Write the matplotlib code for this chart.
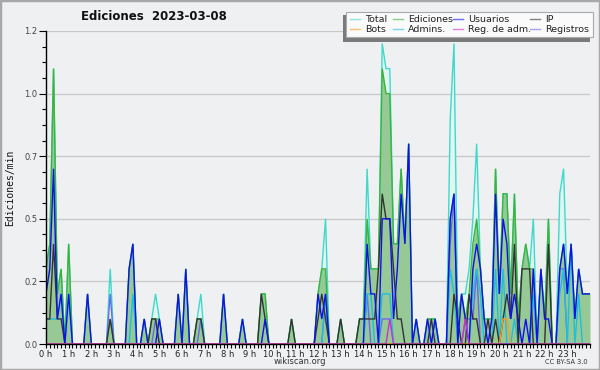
import numpy as np
import matplotlib
matplotlib.use("Agg")
import matplotlib.pyplot as plt
from matplotlib.patches import Rectangle
from matplotlib.lines import Line2D

# ---- data: edits per minute, 10-minute bins (145 points, 0h..24h) ----
total = [
    0.3, 0.4, 1.1, 0.2, 0.3, 0, 0.4, 0, 0, 0, 0, 0.2,
    0, 0, 0, 0, 0, 0.3, 0, 0, 0, 0, 0.3, 0.4,
    0, 0, 0.1, 0, 0.1, 0.2, 0.1, 0, 0, 0, 0, 0.2,
    0, 0.3, 0, 0, 0.1, 0.2, 0, 0, 0, 0, 0, 0.2,
    0, 0, 0, 0, 0.1, 0, 0, 0, 0, 0.2, 0.2, 0,
    0, 0, 0, 0, 0, 0.1, 0, 0, 0, 0, 0, 0,
    0.2, 0.3, 0.5, 0, 0, 0, 0.1, 0, 0, 0, 0, 0.1,
    0.1, 0.7, 0.3, 0.3, 0.3, 1.2, 1.1, 1.1, 0.4, 0.4, 0.7, 0.4,
    0.8, 0, 0.1, 0, 0, 0.1, 0.1, 0.1, 0, 0, 0, 0.9,
    1.2, 0.1, 0.2, 0.2, 0.3, 0.5, 0.8, 0.3, 0.1, 0.1, 0.1, 0.7,
    0.2, 0.6, 0.6, 0.2, 0.6, 0.1, 0.3, 0.4, 0.3, 0.5, 0, 0.3,
    0.1, 0.5, 0, 0, 0.6, 0.7, 0.2, 0.4, 0.1, 0.3, 0.2, 0.2,
    0.2]
ediciones = [
    0.3, 0.4, 1.1, 0.2, 0.3, 0, 0.4, 0, 0, 0, 0, 0.2,
    0, 0, 0, 0, 0, 0.1, 0, 0, 0, 0, 0.3, 0.4,
    0, 0, 0.1, 0, 0.1, 0.1, 0.1, 0, 0, 0, 0, 0.2,
    0, 0.3, 0, 0, 0.1, 0.1, 0, 0, 0, 0, 0, 0.2,
    0, 0, 0, 0, 0.1, 0, 0, 0, 0, 0.2, 0.2, 0,
    0, 0, 0, 0, 0, 0.1, 0, 0, 0, 0, 0, 0,
    0.2, 0.3, 0.3, 0, 0, 0, 0.1, 0, 0, 0, 0, 0.1,
    0.1, 0.5, 0.3, 0.3, 0.3, 1.1, 1.0, 1.0, 0.4, 0.4, 0.7, 0.4,
    0.8, 0, 0.1, 0, 0, 0.1, 0.1, 0.1, 0, 0, 0, 0.5,
    0.6, 0.1, 0.2, 0.1, 0.2, 0.4, 0.5, 0.3, 0.1, 0.1, 0.1, 0.7,
    0.2, 0.6, 0.6, 0.2, 0.6, 0.1, 0.3, 0.4, 0.3, 0.3, 0, 0.3,
    0.1, 0.5, 0, 0, 0.3, 0.4, 0.2, 0.4, 0.1, 0.3, 0.2, 0.2,
    0.2]
usuarios = [
    0.2, 0.3, 0.7, 0.1, 0.2, 0, 0.2, 0, 0, 0, 0, 0.2,
    0, 0, 0, 0, 0, 0, 0, 0, 0, 0, 0.3, 0.4,
    0, 0, 0.1, 0, 0, 0, 0.1, 0, 0, 0, 0, 0.2,
    0, 0.3, 0, 0, 0, 0, 0, 0, 0, 0, 0, 0.2,
    0, 0, 0, 0, 0.1, 0, 0, 0, 0, 0, 0.1, 0,
    0, 0, 0, 0, 0, 0, 0, 0, 0, 0, 0, 0,
    0.2, 0.1, 0.2, 0, 0, 0, 0, 0, 0, 0, 0, 0,
    0, 0.4, 0.2, 0.2, 0, 0.5, 0.5, 0.5, 0.1, 0.3, 0.6, 0.4,
    0.8, 0, 0.1, 0, 0, 0.1, 0, 0.1, 0, 0, 0, 0.5,
    0.6, 0, 0.2, 0.1, 0, 0.3, 0.4, 0.3, 0.1, 0, 0.1, 0.6,
    0.2, 0.5, 0.4, 0.1, 0.2, 0.1, 0, 0.1, 0, 0.3, 0, 0.3,
    0.1, 0.1, 0, 0, 0.3, 0.4, 0.2, 0.4, 0.1, 0.3, 0.2, 0.2,
    0.2]
ip = [
    0.1, 0.1, 0.4, 0.1, 0.1, 0, 0, 0, 0, 0, 0, 0,
    0, 0, 0, 0, 0, 0.1, 0, 0, 0, 0, 0, 0,
    0, 0, 0, 0, 0.1, 0.1, 0, 0, 0, 0, 0, 0,
    0, 0, 0, 0, 0.1, 0.1, 0, 0, 0, 0, 0, 0,
    0, 0, 0, 0, 0, 0, 0, 0, 0, 0.2, 0.1, 0,
    0, 0, 0, 0, 0, 0.1, 0, 0, 0, 0, 0, 0,
    0.1, 0.2, 0.1, 0, 0, 0, 0.1, 0, 0, 0, 0, 0.1,
    0.1, 0.1, 0.1, 0.1, 0.3, 0.6, 0.5, 0.5, 0.3, 0.1, 0.1, 0,
    0, 0, 0, 0, 0, 0, 0.1, 0, 0, 0, 0, 0,
    0.2, 0.1, 0, 0, 0.2, 0.1, 0.1, 0, 0, 0.1, 0, 0.1,
    0, 0.1, 0.2, 0.1, 0.4, 0, 0.3, 0.3, 0.3, 0, 0, 0,
    0, 0.4, 0, 0, 0, 0, 0, 0, 0, 0, 0, 0,
    0]
bots = [0] * 121 + [0.1, 0.1] + [0] * 22
admins = [
    0.1, 0.1, 0.1, 0.1, 0.2, 0, 0.2, 0, 0, 0, 0, 0,
    0, 0, 0, 0, 0, 0, 0, 0, 0, 0, 0, 0.2,
    0, 0, 0, 0, 0, 0, 0, 0, 0, 0, 0, 0,
    0, 0, 0, 0, 0, 0, 0, 0, 0, 0, 0, 0,
    0, 0, 0, 0, 0, 0, 0, 0, 0, 0, 0, 0,
    0, 0, 0, 0, 0, 0, 0, 0, 0, 0, 0, 0,
    0, 0, 0.2, 0, 0, 0, 0, 0, 0, 0, 0, 0,
    0, 0.2, 0.2, 0, 0, 0.2, 0.2, 0.2, 0, 0, 0, 0,
    0, 0, 0, 0, 0, 0, 0, 0.1, 0, 0, 0, 0.3,
    0.2, 0, 0, 0, 0, 0.2, 0.3, 0.2, 0, 0, 0, 0.3,
    0, 0.3, 0, 0, 0.1, 0, 0, 0, 0, 0.2, 0, 0,
    0, 0, 0, 0, 0.2, 0.3, 0, 0.4, 0, 0.2, 0, 0,
    0]
reg_adm = [0] * 91 + [0.1] + [0] * 19 + [0.1] + [0] * 33
registros = [
    0, 0, 0, 0, 0, 0, 0, 0, 0, 0, 0, 0,
    0, 0, 0, 0, 0, 0.2, 0, 0, 0, 0, 0, 0,
    0, 0, 0, 0, 0, 0.1, 0, 0, 0, 0, 0, 0,
    0, 0, 0, 0, 0, 0.1, 0, 0, 0, 0, 0, 0,
    0, 0, 0, 0, 0, 0, 0, 0, 0, 0, 0, 0,
    0, 0, 0, 0, 0, 0, 0, 0, 0, 0, 0, 0,
    0, 0, 0.2, 0, 0, 0, 0, 0, 0, 0, 0, 0,
    0, 0.2, 0, 0, 0, 0.1, 0.1, 0.1, 0, 0, 0, 0,
    0, 0, 0, 0, 0, 0, 0, 0, 0, 0, 0, 0.4,
    0.6, 0, 0, 0.1, 0.1, 0.1, 0.3, 0, 0, 0, 0, 0,
    0, 0, 0, 0, 0, 0, 0, 0, 0, 0.2, 0, 0,
    0, 0, 0, 0, 0.3, 0.3, 0, 0, 0, 0, 0, 0,
    0]

hours = np.arange(len(total)) / 6.0
hour_labels = [f"{h} h" for h in range(24)]
y_ticks = [0, 0.25, 0.5, 0.75, 1.0, 1.25]
y_labels = ["0.0", "0.2", "0.5", "0.7", "1.0", "1.2"]

names = ["Total", "Ediciones", "Usuarios", "IP",
         "Bots", "Admins.", "Reg. de adm.", "Registros"]
colors = {"Total": "#3fd9cc", "Ediciones": "#3cb43c", "Usuarios": "#1010e8",
          "IP": "#333333", "Bots": "#ff9a1a", "Admins.": "#1fbfdc",
          "Reg. de adm.": "#cc33cc", "Registros": "#6a6af0"}
series = {"Total": total, "Ediciones": ediciones, "Usuarios": usuarios,
          "IP": ip, "Bots": bots, "Admins.": admins,
          "Reg. de adm.": reg_adm, "Registros": registros}

BG = "#eff0f2"
W, H = 600, 370
fig = plt.figure(figsize=(W / 100, H / 100), dpi=100, facecolor=BG)


def fx(x):
    return x / W


def fy(y):
    return 1 - y / H


ax = fig.add_axes([fx(46), fy(344), fx(590) - fx(46), fy(31) - fy(344)])
ax.set_facecolor(BG)

# fills
ax.fill_between(hours, total, 0, color="#dff6f1", lw=0, zorder=1)
ax.fill_between(hours, ediciones, 0, color="#96c996", lw=0, zorder=2)

order = ["Total", "Ediciones", "Registros", "Admins.", "IP", "Usuarios",
         "Bots", "Reg. de adm."]
for z, n in enumerate(order):
    ax.plot(hours, series[n], color=colors[n], lw=1.0, zorder=3 + z,
            solid_joinstyle="miter")

ax.set_xlim(0, 24)
ax.set_ylim(0, 1.25)
ax.set_xticks(range(24))
ax.set_xticklabels(hour_labels, fontsize=6, color="#222222")
ax.set_xticks(np.arange(0, 24.01, 1 / 6), minor=True)
ax.set_yticks(y_ticks)
ax.set_yticklabels(y_labels, fontsize=6, color="#444444")
ax.set_yticks(np.arange(0, 1.2501, 0.0625), minor=True)
ax.tick_params(axis="x", which="both", length=3, width=0.8, pad=1,
               direction="out")
ax.tick_params(axis="y", which="major", length=5, width=0.8, pad=1)
ax.tick_params(axis="y", which="minor", length=3, width=0.8)
for s in ("top", "right"):
    ax.spines[s].set_visible(False)
for s in ("left", "bottom"):
    ax.spines[s].set_linewidth(1.0)
    ax.spines[s].set_zorder(20)
ax.grid(axis="y", which="major", color="#c8c8c8", lw=0.9, zorder=0)
ax.set_axisbelow(True)

# texts
fig.text(fx(154), fy(17), "Ediciones  2023-03-08", fontsize=8.5,
         fontweight="bold", ha="center", va="center", color="#111111")
fig.text(fx(10), fy(188), "Ediciones/min", fontsize=7, rotation=90,
         ha="center", va="center", family="DejaVu Sans Mono", color="#111111")
fig.text(fx(300), fy(362), "wikiscan.org", fontsize=6, ha="center",
         va="center", color="#333333")
fig.text(fx(588), fy(362), "CC BY-SA 3.0", fontsize=4.8, ha="right",
         va="center", color="#333333")

# legend (manual)
fig.patches.append(Rectangle((fx(342.7), fy(41.7)), fx(590) - fx(342.7),
                             fy(15) - fy(41.7), transform=fig.transFigure,
                             facecolor="#7a7a7a", edgecolor="none", zorder=5))
fig.patches.append(Rectangle((fx(345.7), fy(37.3)), fx(593.3) - fx(345.7),
                             fy(11.7) - fy(37.3), transform=fig.transFigure,
                             facecolor="#fafafa", edgecolor="#aaaaaa", lw=0.8,
                             zorder=6))
col_handle = [350, 393, 453, 530]
col_text = [365.5, 408, 468, 545]
row_y = [19.3, 29.3]
for k, n in enumerate(names):
    r, c = divmod(k, 4)
    ln = Line2D([fx(col_handle[c]), fx(col_handle[c] + 10)],
                [fy(row_y[r]), fy(row_y[r])], transform=fig.transFigure,
                color=colors[n], lw=1.0, alpha=0.6, zorder=7)
    fig.lines.append(ln)
    fig.text(fx(col_text[c]), fy(row_y[r]), n, fontsize=6.8, ha="left",
             va="center", color="#222222", zorder=8)

# outer frame
fig.patches.append(Rectangle((0, 0), 1, 1, transform=fig.transFigure,
                             facecolor="none", edgecolor="#a8a8a8", lw=2.5,
                             zorder=10))

fig.savefig("out.png", dpi=100, facecolor=BG)
